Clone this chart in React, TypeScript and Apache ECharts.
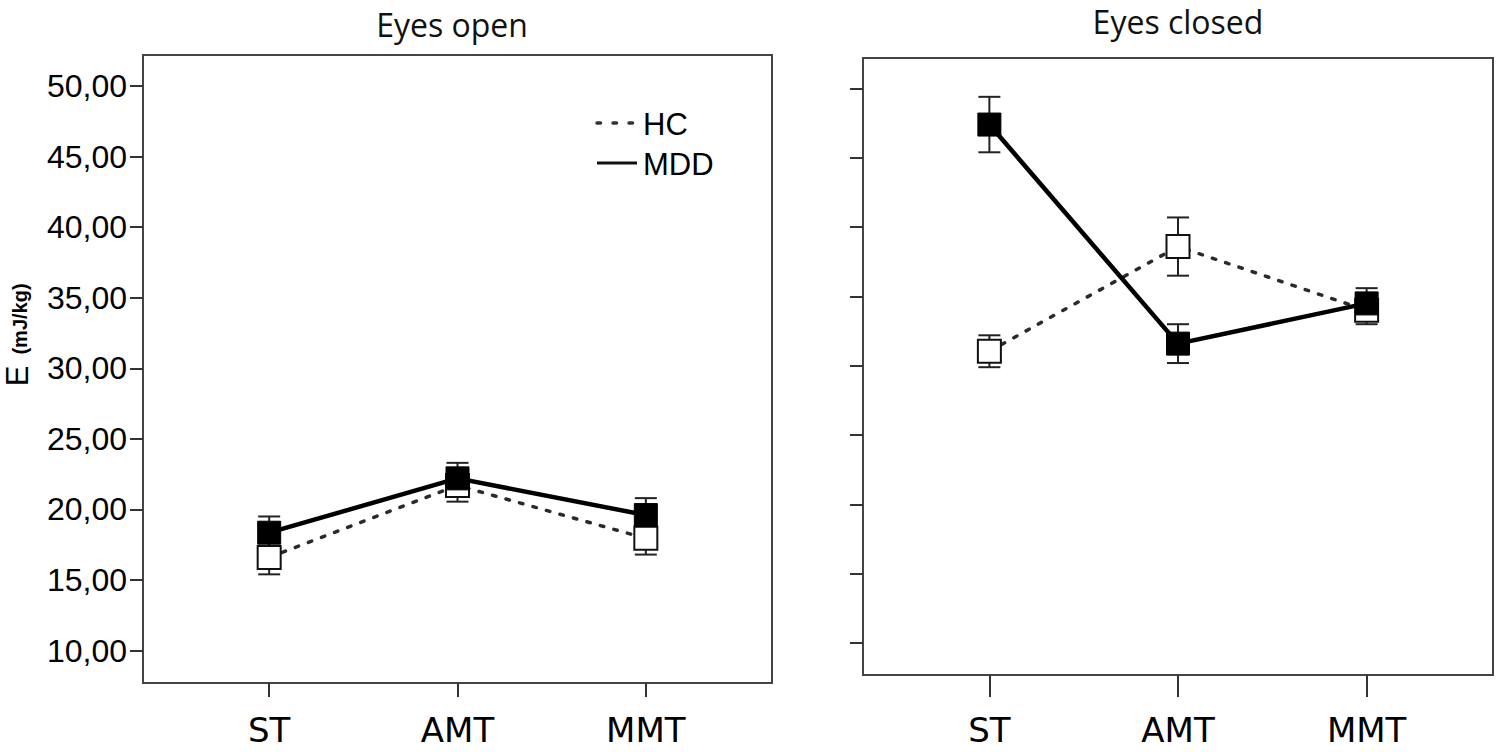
import React, { useEffect, useRef } from "react";
import * as echarts from "echarts";

const categories = ["ST", "AMT", "MMT"];
const yTicks = [10, 15, 20, 25, 30, 35, 40, 45, 50];
const xTicks = [0, 1, 2];

const hcOpen = [16.6, 21.7, 17.95];
const hcOpenErr = [1.2, 1.15, 1.15];
const mddOpen = [18.35, 22.2, 19.6];
const mddOpenErr = [1.15, 1.1, 1.2];

const hcClosed = [31.05, 38.6, 34.0];
const hcClosedErr = [1.15, 2.1, 1.0];
const mddClosed = [47.4, 31.6, 34.5];
const mddClosedErr = [2.0, 1.4, 1.1];

const panelTitles = ["Eyes open", "Eyes closed"];
const groupNames = ["HC", "MDD"];

function lineSeries(name: string, values: number[], g: number, dotted: boolean) {
  return {
    type: "line",
    name,
    xAxisIndex: g,
    yAxisIndex: g,
    data: values.map((v, i) => [i, v]),
    symbol: "rect",
    symbolSize: 23,
    z: dotted ? 3 : 4,
    silent: true,
    lineStyle: dotted
      ? { color: "#2a2a2a", width: 3.5, type: [3.5, 10.5], cap: "round" }
      : { color: "#000", width: 4.5 },
    itemStyle: dotted
      ? { color: "#fff", borderColor: "#111", borderWidth: 2 }
      : { color: "#000", borderColor: "#000", borderWidth: 1 },
    emphasis: { disabled: true },
  };
}

function errSeries(values: number[], errs: number[], g: number) {
  return {
    type: "custom",
    xAxisIndex: g,
    yAxisIndex: g,
    z: 2,
    silent: true,
    data: values.map((v, i) => [i, v - errs[i], v + errs[i]]),
    encode: { x: 0, y: [1, 2] },
    renderItem: (params: any, api: any) => {
      const lo = api.coord([api.value(0), api.value(1)]);
      const hi = api.coord([api.value(0), api.value(2)]);
      const hw = 11;
      const st = { stroke: "#222", lineWidth: 2 };
      return {
        type: "group",
        children: [
          { type: "line", shape: { x1: lo[0], y1: lo[1], x2: hi[0], y2: hi[1] }, style: st },
          { type: "line", shape: { x1: lo[0] - hw, y1: lo[1], x2: lo[0] + hw, y2: lo[1] }, style: st },
          { type: "line", shape: { x1: hi[0] - hw, y1: hi[1], x2: hi[0] + hw, y2: hi[1] }, style: st },
        ],
      };
    },
  };
}

function xAxis(g: number) {
  return {
    type: "value",
    gridIndex: g,
    min: -0.67,
    max: 2.67,
    axisLine: { show: true, onZero: false, lineStyle: { color: "#444", width: 2 } },
    splitLine: { show: false },
    axisTick: { show: true, customValues: xTicks, length: g === 0 ? 14 : 22, lineStyle: { color: "#333", width: 2 } },
    axisLabel: {
      show: true,
      customValues: xTicks,
      formatter: (v: number) => categories[Math.round(v)] ?? "",
      fontSize: 34,
      fontFamily: "DejaVu Sans",
      color: "#000",
      margin: g === 0 ? 30 : 38,
    },
  };
}

function yAxis(g: number) {
  return {
    type: "value",
    gridIndex: g,
    min: 7.7,
    max: 52.2,
    axisLine: { show: true, onZero: false, lineStyle: { color: "#444", width: 2 } },
    splitLine: { show: false },
    axisTick: { show: true, customValues: yTicks, length: 13, lineStyle: { color: "#333", width: 2 } },
    axisLabel: {
      show: g === 0,
      customValues: yTicks,
      formatter: (v: number) => v.toFixed(2).replace(".", ","),
      fontSize: 32,
      fontFamily: "Liberation Sans",
      color: "#000",
      margin: 16,
    },
  };
}

export default function App() {
  const ref = useRef<HTMLDivElement>(null);
  useEffect(() => {
    if (!ref.current) return;
    const chart = echarts.init(ref.current, undefined, { renderer: "svg" });
    const option: any = {
      animation: false,
      backgroundColor: "#fff",
      grid: [
        { left: 143, top: 55, width: 629, height: 628, show: true, borderColor: "#444", borderWidth: 2 },
        { left: 863, top: 58, width: 630, height: 617, show: true, borderColor: "#444", borderWidth: 2 },
      ],
      xAxis: [xAxis(0), xAxis(1)],
      yAxis: [yAxis(0), yAxis(1)],
      series: [
        errSeries(hcOpen, hcOpenErr, 0),
        errSeries(mddOpen, mddOpenErr, 0),
        errSeries(hcClosed, hcClosedErr, 1),
        errSeries(mddClosed, mddClosedErr, 1),
        lineSeries(groupNames[0], hcOpen, 0, true),
        lineSeries(groupNames[1], mddOpen, 0, false),
        lineSeries(groupNames[0], hcClosed, 1, true),
        lineSeries(groupNames[1], mddClosed, 1, false),
      ],
      graphic: [
        {
          type: "text",
          x: 452,
          y: 24,
          style: { text: panelTitles[0], font: "32px 'Open Sans'", fill: "#111", align: "center", verticalAlign: "middle" },
        },
        {
          type: "text",
          x: 1178,
          y: 21,
          style: { text: panelTitles[1], font: "32px 'Open Sans'", fill: "#111", align: "center", verticalAlign: "middle" },
        },
        {
          type: "text",
          x: 17,
          y: 376,
          rotation: Math.PI / 2,
          style: { text: "E", font: "31px 'Liberation Sans'", fill: "#000", align: "center", verticalAlign: "middle" },
        },
        {
          type: "text",
          x: 20,
          y: 319,
          rotation: Math.PI / 2,
          style: { text: "(mJ/kg)", font: "bold 20px 'Liberation Sans'", fill: "#000", align: "center", verticalAlign: "middle" },
        },
        {
          type: "line",
          shape: { x1: 597, y1: 123, x2: 634, y2: 123 },
          style: { stroke: "#333", lineWidth: 3.5, lineDash: [3.5, 12.5], lineCap: "round" },
        },
        {
          type: "text",
          x: 643,
          y: 124,
          style: { text: groupNames[0], font: "31px 'Liberation Sans'", fill: "#000", align: "left", verticalAlign: "middle" },
        },
        {
          type: "line",
          shape: { x1: 597, y1: 163, x2: 637, y2: 163 },
          style: { stroke: "#111", lineWidth: 3 },
        },
        {
          type: "text",
          x: 643,
          y: 164,
          style: { text: groupNames[1], font: "31px 'Liberation Sans'", fill: "#000", align: "left", verticalAlign: "middle" },
        },
      ],
    };
    chart.setOption(option);
    return () => chart.dispose();
  }, []);
  return (
    <div
      ref={ref}
      style={{ position: "fixed", left: 0, top: 0, width: 1500, height: 752, background: "#fff" }}
    />
  );
}
